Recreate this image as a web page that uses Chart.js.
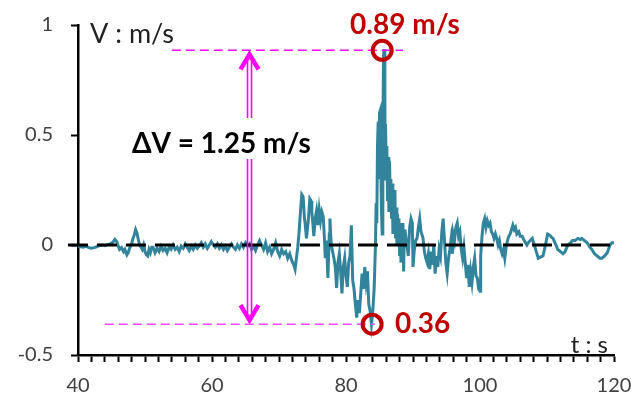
<!DOCTYPE html>
<html><head><meta charset="utf-8">
<script src="https://cdn.jsdelivr.net/npm/chart.js@4"></script>
<style>html,body{margin:0;padding:0;background:#fff}#wrap{width:631px;height:400px;position:relative}</style>
</head><body><div id="wrap"><canvas id="c"></canvas></div>
<script>
// ---- data ----
const timeS = [
40.0,40.4,40.8,41.2,41.6,42.0,42.4,42.8,43.2,43.6,44.0,44.4,44.8,45.2,45.5,45.8,46.0,46.2,46.5,46.8,
47.0,47.3,47.5,47.7,48.0,48.2,48.4,48.6,48.8,49.0,49.2,49.4,49.6,49.8,50.0,50.2,50.4,50.6,50.8,51.0,
51.2,51.5,51.8,52.1,52.4,52.7,53.0,53.3,53.6,53.9,54.2,54.5,54.8,55.1,55.4,55.7,56.0,56.3,56.6,56.9,
57.2,57.5,57.8,58.1,58.4,58.7,59.0,59.3,59.6,59.9,60.2,60.5,60.8,61.1,61.4,61.7,62.0,62.3,62.6,62.9,
63.2,63.5,63.8,64.1,64.4,64.7,65.0,65.3,65.6,65.9,66.2,66.5,66.8,67.1,67.4,67.7,68.0,68.3,68.6,68.9,
69.2,69.5,69.8,70.1,70.4,70.7,71.0,71.3,71.6,71.9,72.2,72.4,72.6,72.8,73.0,73.2,73.4,73.6,73.8,73.9,
74.1,74.2,74.4,74.6,74.8,74.9,75.1,75.2,75.4,75.6,75.8,76.0,76.2,76.4,76.6,76.8,76.9,77.1,77.3,77.5,
77.6,77.8,78.0,78.2,78.4,78.6,78.8,79.0,79.2,79.4,79.6,79.8,80.0,80.2,80.4,80.6,80.8,81.0,81.2,81.4,
81.6,81.8,82.0,82.2,82.4,82.6,82.8,83.0,83.2,83.4,83.6,83.8,84.0,84.2,
84.4,84.5,84.6,84.7,84.8,84.9,85.0,85.1,85.2,85.3,85.4,85.5,85.6,85.7,85.8,85.85,85.9,86.0,86.1,86.2,
86.3,86.4,86.5,86.6,86.7,86.8,86.9,87.0,87.1,87.2,87.3,87.4,87.5,87.6,87.7,87.8,87.9,88.0,88.1,88.2,
88.3,88.4,88.5,88.6,88.7,88.8,
89.0,89.3,89.5,89.7,89.9,90.0,90.2,90.4,90.6,90.8,91.0,91.2,91.5,91.7,
91.9,92.1,92.3,92.5,92.7,92.9,93.1,93.3,93.5,93.7,93.9,94.1,94.3,94.5,94.7,94.9,95.1,95.3,95.5,95.7,
95.9,96.0,96.2,96.4,96.6,96.8,97.0,97.2,97.4,97.6,97.8,98.0,98.2,98.4,98.6,98.8,99.0,99.2,99.4,99.6,
99.8,100.0,100.1,100.3,100.5,100.7,100.9,101.1,101.3,101.5,101.7,101.9,102.1,102.3,102.5,102.7,102.9,103.1,103.3,103.5,
103.7,103.9,104.1,104.3,104.5,104.7,104.9,105.1,105.3,105.5,105.8,106.0,106.3,106.6,107.0,107.2,107.5,107.8,108.1,108.4,
108.7,109.0,109.4,109.7,110.1,110.4,110.7,110.9,111.2,111.6,112.0,112.4,112.7,113.1,113.5,113.8,114.2,114.6,115.0,115.2,
115.6,116.0,116.4,116.7,117.1,117.5,117.9,118.2,118.6,119.0,119.4,119.7,120.0
];
const velocity = [
-0.005,-0.008,-0.01,-0.005,-0.012,-0.015,-0.012,-0.008,-0.002,0.0,-0.003,0.002,0.005,0.012,0.025,0.015,-0.005,-0.02,-0.012,-0.03,
-0.02,-0.045,-0.035,-0.015,0.005,0.03,0.045,0.07,0.055,0.025,0.0,-0.01,-0.02,0.0,-0.03,-0.045,-0.05,-0.02,-0.035,-0.01,
-0.01,-0.035,-0.015,-0.03,-0.005,-0.025,-0.015,-0.035,-0.01,-0.02,0.0,-0.02,-0.01,-0.03,-0.005,-0.015,0.005,-0.01,-0.025,-0.005,
-0.02,0.0,-0.015,-0.005,0.01,-0.01,0.005,-0.015,0.0,0.015,0.0,-0.01,0.005,-0.015,0.0,-0.02,-0.005,-0.025,-0.01,0.005,
-0.01,-0.02,0.0,-0.015,0.005,-0.01,0.01,-0.005,0.005,-0.02,-0.005,-0.025,0.0,0.02,0.0,-0.02,0.01,-0.03,-0.01,-0.04,
-0.02,0.01,-0.03,-0.05,-0.02,-0.04,-0.03,-0.06,-0.04,-0.07,-0.09,-0.11,-0.06,-0.01,0.06,0.15,0.23,0.22,0.12,0.1,
0.03,0.06,0.12,0.21,0.2,0.15,0.08,0.04,0.12,0.155,0.09,0.16,0.11,0.15,0.13,0.02,-0.06,0.02,-0.15,0.05,
0.12,0.0,-0.03,-0.06,-0.1,-0.195,-0.08,-0.04,-0.12,-0.22,-0.1,-0.06,-0.14,-0.19,-0.08,-0.05,0.09,-0.16,-0.2,-0.27,
-0.33,-0.25,-0.31,-0.22,-0.13,-0.2,-0.1,-0.17,-0.12,-0.27,-0.3,-0.36,-0.3,-0.2,
0.0,0.19,0.1,0.45,0.56,0.3,0.6,0.61,0.35,0.15,0.05,0.5,0.86,0.89,0.7,0.3,0.55,0.35,0.45,0.2,
0.4,0.15,0.38,0.2,0.3,0.12,0.28,0.05,0.22,0.1,0.25,0.03,0.17,0.0,0.14,0.02,0.12,-0.05,0.1,-0.08,
0.08,-0.03,0.1,-0.12,0.05,0.07,
0.02,-0.05,0.08,0.12,0.1,-0.1,-0.02,0.02,0.03,0.08,0.12,0.06,0.03,-0.03,
-0.06,-0.08,-0.04,-0.11,-0.03,-0.09,0.0,-0.13,-0.05,-0.1,-0.02,-0.05,0.06,0.12,0.02,-0.08,-0.13,-0.06,-0.02,0.03,
-0.04,0.05,0.02,0.08,0.1,0.04,0.06,-0.02,-0.06,-0.01,-0.08,-0.15,-0.09,-0.19,-0.12,-0.17,-0.1,-0.06,-0.14,-0.15,
-0.2,-0.21,-0.05,0.04,0.1,0.12,0.08,0.11,0.09,0.1,0.06,0.05,0.03,0.05,0.03,0.0,0.02,-0.02,-0.04,-0.02,
-0.06,-0.01,0.02,0.04,0.05,0.07,0.09,0.07,0.08,0.05,0.06,0.04,0.04,0.02,0.0,0.01,0.02,0.03,0.0,-0.03,
-0.06,-0.055,-0.05,-0.01,0.05,0.045,0.035,0.03,0.01,-0.02,-0.03,-0.04,-0.03,0.0,0.01,0.02,0.02,0.03,0.025,0.03,
0.02,0.01,-0.01,-0.02,-0.04,-0.05,-0.06,-0.06,-0.05,-0.035,0.0,0.01,0.01
];
const xTickLabels = ['40','60','80','100','120'];
const yTickLabels = ['-0.5','0','0.5','1'];
const peakTime = 85.4, peakVel = 0.885;
const troughTime = 83.9, troughVel = -0.36;
const deltaText = 'ΔV = 1.25 m/s';
const peakText = '0.89 m/s';
const troughText = '0.36';

const xMin = 40, xMax = 120, yMin = -0.5, yMax = 1;

const annot = {
  id: 'annot',
  afterDatasetsDraw(chart) {
    const { ctx, scales: { x, y } } = chart;
    const X = v => x.getPixelForValue(v), Y = v => y.getPixelForValue(v);
    ctx.save();
    const line = (x1, y1, x2, y2) => { ctx.beginPath(); ctx.moveTo(x1, y1); ctx.lineTo(x2, y2); ctx.stroke(); };
    // magenta dashed reference lines
    ctx.strokeStyle = '#FF00FF'; ctx.lineWidth = 1.5; ctx.setLineDash([9, 5]);
    line(X(54.0), Y(peakVel), X(88.5), Y(peakVel));
    ctx.strokeStyle = '#FF44FF';
    line(X(44.0), Y(troughVel), X(84.3), Y(troughVel));
    ctx.setLineDash([]);
    // double arrow
    const ax = X(65.6), yt = Y(peakVel), yb = Y(troughVel);
    ctx.strokeStyle = '#FF00FF'; ctx.lineWidth = 1.6;
    line(ax - 2, yt + 6, ax - 2, yb - 6);
    line(ax + 2, yt + 6, ax + 2, yb - 6);
    ctx.lineWidth = 4.5; ctx.lineJoin = 'miter'; ctx.lineCap = 'butt';
    ctx.beginPath(); ctx.moveTo(ax - 9, yt + 19); ctx.lineTo(ax, yt + 4); ctx.lineTo(ax + 9, yt + 19); ctx.stroke();
    ctx.beginPath(); ctx.moveTo(ax - 9, yb - 19); ctx.lineTo(ax, yb - 4); ctx.lineTo(ax + 9, yb - 19); ctx.stroke();
    // delta text with white background
    ctx.font = 'bold 28px Lato';
    const tx = X(48.06), tyBase = Y(0.418);
    const w = ctx.measureText(deltaText).width;
    ctx.fillStyle = '#fff';
    ctx.fillRect(tx - 4, tyBase - 35, w + 8, 41);
    ctx.fillStyle = '#000'; ctx.textBaseline = 'alphabetic'; ctx.textAlign = 'left';
    ctx.fillText(deltaText, tx, tyBase);
    // red circles
    ctx.strokeStyle = '#C00000'; ctx.lineWidth = 4;
    ctx.beginPath(); ctx.arc(X(peakTime), Y(peakVel), 9.5, 0, Math.PI * 2); ctx.stroke();
    ctx.beginPath(); ctx.arc(X(troughTime), Y(troughVel), 9.5, 0, Math.PI * 2); ctx.stroke();
    // red labels
    ctx.fillStyle = '#C00000'; ctx.font = 'bold 28px Lato';
    ctx.textAlign = 'center';
    ctx.fillText(peakText, X(88.8), Y(0.96));
    ctx.textAlign = 'left';
    ctx.fillText(troughText, X(87.3), Y(-0.40));
    // axis titles
    ctx.fillStyle = '#222'; ctx.font = '27px Lato';
    ctx.textAlign = 'left';
    ctx.fillText('V : m/s', X(41.8), Y(0.918));
    ctx.font = '24px Lato'; ctx.textAlign = 'right';
    ctx.fillText('t : s', X(119.1), Y(-0.49));
    ctx.restore();
  }
};

new Chart(document.getElementById('c'), {
  type: 'line',
  data: {
    datasets: [
      {
        data: [{ x: 38.5, y: 0 }, { x: xMax, y: 0 }],
        borderColor: '#000', borderWidth: 2.8, borderDash: [20, 9],
        pointRadius: 0, clip: false, order: 0
      },
      {
        data: timeS.map((t, i) => ({ x: t, y: velocity[i] })),
        borderColor: '#31849B', borderWidth: 3, pointRadius: 0,
        tension: 0, order: 1
      }
    ]
  },
  options: {
    responsive: true, maintainAspectRatio: false, animation: false,
    layout: { padding: { left: 0, right: 17, top: 25, bottom: 0 } },
    plugins: { legend: { display: false }, tooltip: { enabled: false } },
    scales: {
      x: {
        type: 'linear', min: xMin, max: xMax,
        afterFit(s) { s.height = 45; s.paddingLeft = 0; s.paddingRight = 0; },
        border: { display: true, color: '#000', width: 2.5 },
        grid: { drawOnChartArea: false, color: '#000', tickLength: 7, tickWidth: 2 },
        ticks: {
          stepSize: 2, autoSkip: false, maxRotation: 0, padding: 12,
          color: '#404040', font: { family: 'Lato', size: 20 },
          callback: v => { const i = xTickLabels.indexOf(String(v)); return i >= 0 ? xTickLabels[i] : ''; }
        }
      },
      y: {
        min: yMin, max: yMax,
        afterFit(s) { s.width = 78; s.paddingTop = 0; s.paddingBottom = 0; },
        border: { display: true, color: '#000', width: 2.5 },
        grid: { drawOnChartArea: false, color: '#000', tickLength: 7, tickWidth: 2 },
        ticks: {
          stepSize: 0.5, padding: 18,
          color: '#404040', font: { family: 'Lato', size: 20 },
          callback: v => { const i = yTickLabels.indexOf(String(v)); return i >= 0 ? yTickLabels[i] : ''; }
        }
      }
    }
  },
  plugins: [annot]
});
</script></body></html>
